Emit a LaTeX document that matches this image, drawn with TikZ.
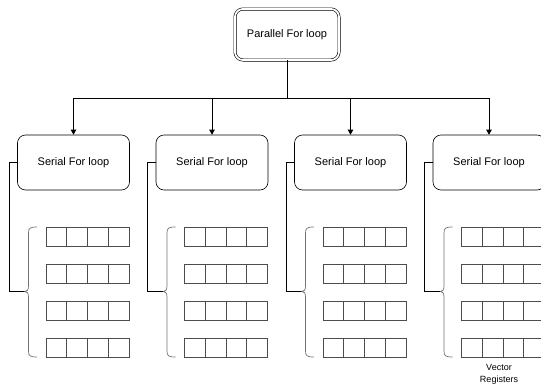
\documentclass[tikz,border=0pt]{standalone}
\usepackage{fontspec}
\setmainfont{Liberation Sans}
\usetikzlibrary{arrows.meta}
\begin{document}
\begin{tikzpicture}[x=1pt,y=-1pt,
  serialbox/.style={draw, rounded corners=8pt, minimum width=112pt, minimum height=55pt, inner sep=0pt, font=\fontsize{11}{13}\selectfont, line width=0.6pt},
  parbox/.style={draw, double, double distance=1.8pt, line width=0.6pt, rounded corners=8pt, minimum width=104pt, minimum height=51pt, inner sep=0pt, font=\fontsize{11}{13}\selectfont},
  cell/.style={draw=black!70, minimum width=20.75pt, minimum height=19pt, inner sep=0pt, line width=0.7pt},
  conn/.style={line width=0.6pt},
  arr/.style={conn, -{Triangle[length=5pt,width=5.5pt]}},
  bracestyle/.style={draw=black!55, line width=0.7pt},
  lbl/.style={font=\fontsize{9}{12.5}\selectfont, align=center}
]
\useasboundingbox (0,0) rectangle (541,391);
\node[parbox] (par) at (287,34.5) {Parallel For loop};
\coordinate (hub) at (287,98);
\draw[conn] (par.south) -- (hub);
\foreach \i in {1,2,3,4}{
  \pgfmathsetmacro{\xc}{73.5+138.5*(\i-1)}
  \pgfmathsetmacro{\dx}{\xc-73.5}
  \node[serialbox] (s\i) at (\xc,162.5) {Serial For loop};
  \draw[arr] (hub) -| (s\i.north);
  \coordinate (tip\i) at (\dx+25,291.5);
  \draw[conn] (s\i.west) -- ++(-8,0) |- (tip\i);
  \draw[bracestyle] (\dx+37,227) .. controls (\dx+30,227) and (\dx+28.5,228) .. (\dx+28.5,233)
     -- (\dx+28.5,286) .. controls (\dx+28.5,290) and (\dx+27,291.5) .. (tip\i)
     .. controls (\dx+27,291.5) and (\dx+28.5,293) .. (\dx+28.5,297)
     -- (\dx+28.5,351) .. controls (\dx+28.5,356) and (\dx+30,357) .. (\dx+37,357);
  \foreach \j in {1,2,3,4}{
    \foreach \k in {1,2,3,4}{
      \node[cell] (r-\i-\j-\k) at ({\xc-17.1+20.75*(\k-1)},{236.5+37*(\j-1)}) {};
    }
  }
}
\node[lbl] (vr) at (499,374.5) {Vector\\Registers};
\end{tikzpicture}
\end{document}
